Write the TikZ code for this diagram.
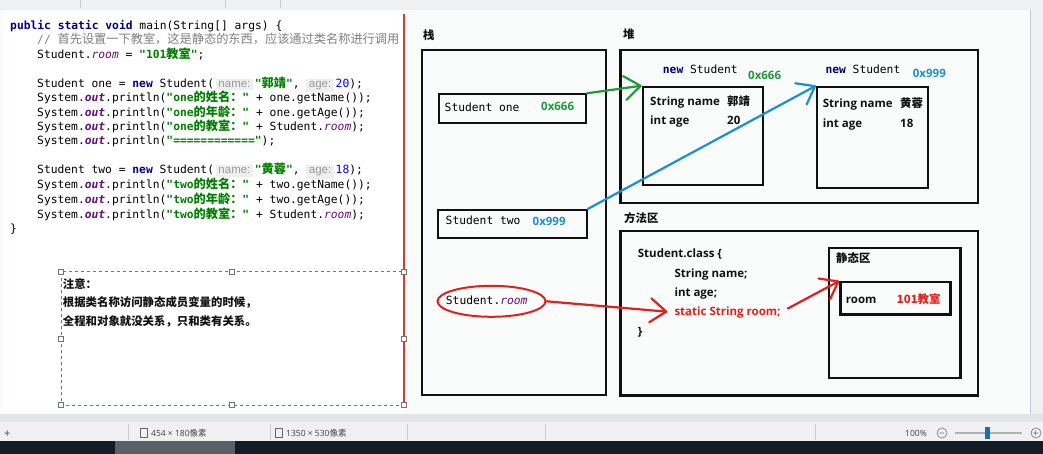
\documentclass[tikz,border=0pt]{standalone}
\usepackage{fontspec}
\usepackage{xcolor}
\usepackage{tikz}
\usetikzlibrary{arrows.meta,positioning,shapes.geometric}
\setmainfont{Open Sans}
\newfontfamily\codefont{DejaVu Sans Mono}
\newfontfamily\cjk{Noto Sans CJK SC}
\newfontfamily\cjkcode{Noto Sans CJK SC}[Scale=1.08]
\newfontfamily\hintfont{Liberation Sans}
\definecolor{ink}{HTML}{111111}
\definecolor{kwnavy}{HTML}{000080}
\definecolor{strgreen}{HTML}{008000}
\definecolor{fldpurple}{HTML}{660E7A}
\definecolor{numblue}{HTML}{0000FF}
\definecolor{cmtgray}{HTML}{808080}
\definecolor{hintgray}{HTML}{9A9A9A}
\definecolor{hintbg}{HTML}{EFEFEF}
\definecolor{addrgreen}{HTML}{1E9A3C}
\definecolor{addrblue}{HTML}{1B8FD6}
\definecolor{penred}{HTML}{E0201C}
\definecolor{splitred}{HTML}{D83A34}
\definecolor{notedash}{HTML}{3A86B8}
\definecolor{canvas}{HTML}{FAFCFB}
\definecolor{chrome}{HTML}{EEF0F2}
\definecolor{chromeline}{HTML}{C9CDD2}
\definecolor{scrollgray}{HTML}{E2E5E8}
\definecolor{taskbar}{HTML}{141C26}
\newcommand\kw[1]{\textcolor{kwnavy}{\bfseries #1}}
\newcommand\jstr[1]{\textcolor{strgreen}{\bfseries #1}}
\newcommand\fld[1]{\textcolor{fldpurple}{\itshape #1}}
\newcommand\sfld[1]{\textcolor{fldpurple}{\bfseries\itshape #1}}
\newcommand\jnum[1]{\textcolor{numblue}{#1}}
\newcommand\zh[1]{{\cjkcode #1}}
\newcommand\hint[1]{{\setlength\fboxsep{2.5pt}\colorbox{hintbg}{\textcolor{hintgray}{\hintfont\fontsize{11.5}{12}\selectfont #1}}}}
\tikzset{
  areabox/.style={draw=ink,line width=2.2pt,anchor=north west,inner sep=0pt},
  codeline/.style={anchor=base west,inner sep=0pt,font=\codefont\fontsize{11.3}{13}\selectfont},
  boldtext/.style={anchor=base west,inner sep=0pt,text=ink,font=\bfseries\fontsize{11.5}{13}\selectfont},
  zhtext/.style={anchor=base west,inner sep=0pt,text=ink,font=\cjk\bfseries\fontsize{11.4}{13}\selectfont},
  statustext/.style={anchor=base west,inner sep=0pt,text=black!75,font=\fontsize{8.5}{10}\selectfont},
  penarrow/.style={line width=2.2pt,line cap=round,-{Straight Barb[length=16pt,width=24pt,round]}}
}
\begin{document}
\begin{tikzpicture}[x=1pt,y=-1pt]
\useasboundingbox (0,0) rectangle (1043,454);
% window
\fill[chrome] (0,0) rectangle (1043,10);
\foreach \x in {80,225,280} \draw[chromeline] (\x,0) -- (\x,8);
\fill[canvas] (0,10) rectangle (1030,414);
\fill[white] (3,12) rectangle (404,410);
\fill[chrome] (1030,10) rectangle (1043,414);
\draw[chromeline] (1030,10) -- (1030,414);
\fill[scrollgray] (0,414) rectangle (1043,422);
\fill[chrome] (0,422) rectangle (1043,441);
\foreach \x in {128,270,407,545,815} \draw[chromeline] (\x,424) -- (\x,440);
\fill[taskbar] (0,441) rectangle (1043,454);
\fill[taskbar!70!white] (115,441) rectangle (235,454);

% code
\node[codeline] (code1) at (10,29.5) {\kw{public static void} main(String[] args) \{};
\node[codeline] (code2) at (37,44) {\textcolor{cmtgray}{// \zh{首先设置一下教室，这是静态的东西，应该通过类名称进行调用}}};
\node[codeline] (code3) at (37,58.5) {Student.\fld{room} = \jstr{"101\zh{教室}"};};
\node[codeline] (code5) at (37,87.5) {Student one = \kw{new} Student(\,\hint{name:}\,\jstr{"\zh{郭靖}"}, \hint{age:}\,\jnum{20});};
\node[codeline] (code6) at (37,102) {System.\sfld{out}.println(\jstr{"one\zh{的姓名：}"} + one.getName());};
\node[codeline] (code7) at (37,116.5) {System.\sfld{out}.println(\jstr{"one\zh{的年龄：}"} + one.getAge());};
\node[codeline] (code8) at (37,131) {System.\sfld{out}.println(\jstr{"one\zh{的教室：}"} + Student.\fld{room});};
\node[codeline] (code9) at (37,145) {System.\sfld{out}.println(\jstr{"============"});};
\node[codeline] (code11) at (37,174) {Student two = \kw{new} Student(\,\hint{name:}\,\jstr{"\zh{黄蓉}"}, \hint{age:}\,\jnum{18});};
\node[codeline] (code12) at (37,189) {System.\sfld{out}.println(\jstr{"two\zh{的姓名：}"} + two.getName());};
\node[codeline] (code13) at (37,204) {System.\sfld{out}.println(\jstr{"two\zh{的年龄：}"} + two.getAge());};
\node[codeline] (code14) at (37,218.5) {System.\sfld{out}.println(\jstr{"two\zh{的教室：}"} + Student.\fld{room});};
\node[codeline] (code15) at (10,233) {\}};

% note
\draw[draw=notedash,dashed,line width=0.9pt] (61,271.5) rectangle (404,405);
\draw[splitred,line width=2pt] (404,14) -- (404,408);
\foreach \x/\y in {61/271.5,232/271.5,404/271.5,61/339,404/339,61/405,232/405,404/405}
  \draw[black!55,fill=white,line width=0.5pt] (\x-2.5,\y-2.5) rectangle (\x+2.5,\y+2.5);
\node[zhtext] (note1) at (62.7,288) {注意：};
\node[zhtext] (note2) at (62.7,306.3) {根据类名称访问静态成员变量的时候，};
\node[zhtext] (note3) at (62.7,325.7) {全程和对象就没关系，只和类有关系。};

% stack
\node[zhtext] (stacklbl) at (423,40) {栈};
\node[areabox,minimum width=184pt,minimum height=345pt] (stack) at (421,49) {};
\node[areabox,line width=2pt,minimum width=147pt,minimum height=28.4pt] (oneref) at (438,93.3) {};
\node[codeline] (onetxt) at (444.5,111.5) {Student one};
\node[boldtext,text=addrgreen] (oneaddr) at (541,110.5) {0x666};
\node[areabox,line width=2pt,minimum width=148.7pt,minimum height=27.7pt] (tworef) at (437,209) {};
\node[codeline] (twotxt) at (445.5,225) {Student two};
\node[boldtext,text=addrblue] (twoaddr) at (532.5,225.5) {0x999};
\node[ellipse,draw=penred,line width=2pt,minimum width=108pt,minimum height=31pt] (roomref) at (491.5,301.3) {};
\node[codeline] (roomtxt) at (445.7,304.3) {Student.\fld{room}};

% heap
\node[zhtext] (heaplbl) at (623,38.5) {堆};
\node[areabox,minimum width=357.4pt,minimum height=153pt] (heap) at (619.3,48.7) {};
\node[codeline] (newone) at (662.7,74) {\kw{new} Student};
\node[boldtext,text=addrgreen] (objoneaddr) at (748,79.5) {0x666};
\node[areabox,minimum width=120pt,minimum height=98.3pt] (objone) at (641.7,85.7) {};
\node[boldtext] (onename) at (650,105.7) {String name};
\node[zhtext] (onenameval) at (727,105.7) {郭靖};
\node[boldtext] (oneage) at (650,124.7) {int age};
\node[boldtext] (oneageval) at (727,124.7) {20};
\node[codeline] (newtwo) at (825.3,74) {\kw{new} Student};
\node[boldtext,text=addrblue] (objtwoaddr) at (912.7,78) {0x999};
\node[areabox,minimum width=110.7pt,minimum height=101.6pt] (objtwo) at (816,85.7) {};
\node[boldtext] (twoname) at (822.7,108) {String name};
\node[zhtext] (twonameval) at (900,108) {黄蓉};
\node[boldtext] (twoage) at (822.7,127.3) {int age};
\node[boldtext] (twoageval) at (900,127.3) {18};

% method area
\node[zhtext] (methodlbl) at (624,223) {方法区};
\node[areabox,minimum width=357.4pt,minimum height=164.6pt] (methodarea) at (619.3,229.7) {};
\node[boldtext] (classhead) at (637.7,258) {Student.class \{};
\node[boldtext] (classname) at (674.3,277) {String name;};
\node[boldtext] (classage) at (674.3,296.7) {int age;};
\node[boldtext,text=penred] (staticfield) at (674.3,315.3) {static String room;};
\node[boldtext] (classend) at (637.7,335) {\}};
\node[zhtext] (staticlbl) at (836,262.5) {静态区};
\node[areabox,minimum width=131.6pt,minimum height=130pt] (staticarea) at (827.7,246.7) {};
\node[areabox,minimum width=110pt,minimum height=32.3pt] (roombox) at (839.3,281) {};
\node[boldtext] (roomname) at (845.7,303.7) {room};
\node[zhtext,text=penred] (roomval) at (896.7,303.7) {101教室};

% arrows
\draw[penarrow,draw=addrgreen] (oneref.north east) -- (objone.north west);
\draw[penarrow,draw=addrblue] (tworef.north east) -- (objtwo.north west);
\draw[penarrow,draw=penred,shorten >=7pt] (roomref.east) -- (staticfield.west);
\draw[penarrow,draw=penred,shorten <=8pt] (staticfield.east) -- (roombox.north west);

% status bar
\node[statustext,font=\fontsize{11}{12}\selectfont] (cursorsym) at (4,437) {+};
\draw[black!60,line width=0.6pt] (140,428) rectangle (147,437);
\node[statustext] (selsize) at (151,436.5) {454 × 180{\cjk 像素}};
\draw[black!60,line width=0.6pt] (275,428) rectangle (282,437);
\node[statustext] (imgsize) at (286,436.5) {1350 × 530{\cjk 像素}};
\node[statustext] (zoomval) at (905,436.5) {100\%};
\node[circle,draw=black!55,line width=0.6pt,inner sep=0pt,minimum size=10pt,font=\fontsize{8}{8}\selectfont] (zoomout) at (942,433) {$-$};
\draw[black!30,line width=1.2pt] (955,433) -- (1022,433);
\fill[addrblue!80!black] (985,427) rectangle (990,439);
\node[circle,draw=black!55,line width=0.6pt,inner sep=0pt,minimum size=10pt,font=\fontsize{8}{8}\selectfont] (zoomin) at (1036,433) {$+$};
\end{tikzpicture}
\end{document}
